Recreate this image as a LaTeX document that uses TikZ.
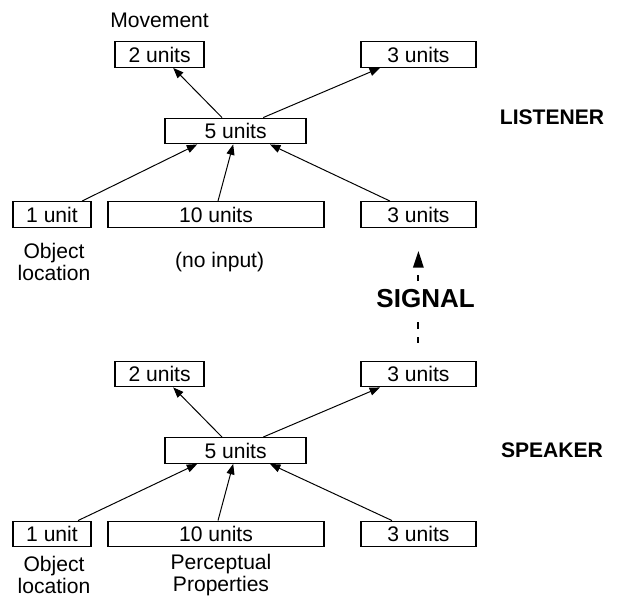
\documentclass[tikz,border=0pt]{standalone}
\usepackage{fontspec}
\setmainfont{Liberation Sans}
\usetikzlibrary{arrows.meta}

\tikzset{
  unitbox/.style={draw, line width=0.9pt, inner sep=0pt, minimum height=0.64cm,
    font=\fontsize{15}{15.6}\selectfont},
  note/.style={align=center, font=\fontsize{15}{15.6}\selectfont},
  role/.style={font=\fontsize{15}{18}\selectfont\bfseries},
  link/.style={-{Triangle[length=0.26cm,width=0.2cm]}, line width=0.7pt},
  sigdash/.style={line width=1.4pt, dash pattern=on 4.3pt off 5.7pt},
  sigtip/.style={-{Triangle[length=0.42cm,width=0.26cm]}},
}

\begin{document}
\begin{tikzpicture}
  \useasboundingbox (0,0) rectangle (15.525,14.95);

  % Listener
  \node[note] (lmove) at (3.99,14.44) {Movement};
  \node[unitbox, minimum width=2.225cm] (lout1) at (3.99,13.5875) {2 units};
  \node[unitbox, minimum width=2.875cm] (lout2) at (10.46,13.5875) {3 units};
  \node[unitbox, minimum width=3.525cm] (lhid) at (5.89,11.675) {5 units};
  \node[unitbox, minimum width=1.95cm] (lin1) at (1.3,9.5875) {1 unit};
  \node[unitbox, minimum width=5.4cm] (lin2) at (5.4,9.5875) {10 units};
  \node[unitbox, minimum width=2.875cm] (lin3) at (10.46,9.5875) {3 units};
  \node[note] (lloc) at (1.35,8.4) {Object\\location};
  \node[note] (lnone) at (5.49,8.41) {(no input)};
  \node[role] (listener) at (13.8,12.01) {LISTENER};

  \draw[link] ([xshift=-0.34cm]lhid.north) -- ([xshift=0.34cm]lout1.south);
  \draw[link] ([xshift=0.69cm]lhid.north) -- ([xshift=-0.96cm]lout2.south);
  \draw[link] ([xshift=0.75cm]lin1.north) -- ([xshift=-0.96cm]lhid.south);
  \draw[link] ([xshift=0.05cm]lin2.north) -- ([xshift=-0.06cm]lhid.south);
  \draw[link] ([xshift=-0.71cm]lin3.north) -- ([xshift=0.86cm]lhid.south);

  % Speaker
  \node[unitbox, minimum width=2.225cm] (sout1) at (3.99,5.6) {2 units};
  \node[unitbox, minimum width=2.875cm] (sout2) at (10.46,5.6) {3 units};
  \node[unitbox, minimum width=3.525cm] (shid) at (5.89,3.6875) {5 units};
  \node[unitbox, minimum width=1.95cm] (sin1) at (1.3,1.6) {1 unit};
  \node[unitbox, minimum width=5.4cm] (sin2) at (5.4,1.6) {10 units};
  \node[unitbox, minimum width=2.875cm] (sin3) at (10.46,1.6) {3 units};
  \node[note] (sloc) at (1.35,0.575) {Object\\location};
  \node[note] (sprop) at (5.525,0.575) {Perceptual\\Properties};
  \node[role] (speaker) at (13.8,3.7) {SPEAKER};

  \draw[link] ([xshift=-0.34cm]shid.north) -- ([xshift=0.34cm]sout1.south);
  \draw[link] ([xshift=0.69cm]shid.north) -- ([xshift=-0.96cm]sout2.south);
  \draw[link] ([xshift=0.65cm]sin1.north) -- ([xshift=-0.96cm]shid.south);
  \draw[link] ([xshift=0.05cm]sin2.north) -- ([xshift=-0.06cm]shid.south);
  \draw[link] ([xshift=-0.66cm]sin3.north) -- ([xshift=0.86cm]shid.south);

  % Signal from speaker to listener
  \node[role, font=\fontsize{18.5}{22}\selectfont\bfseries,
    inner xsep=2pt, inner ysep=4.5pt] (sig) at (10.64,7.475) {SIGNAL};
  \draw[sigdash, shorten <=0.45cm, shorten >=1.5pt] (sout2.north) -- (sout2.north |- sig.south);
  \draw[sigdash, sigtip, shorten <=1.5pt, shorten >=0.575cm] (lin3.south |- sig.north) -- (lin3.south);
\end{tikzpicture}
\end{document}
